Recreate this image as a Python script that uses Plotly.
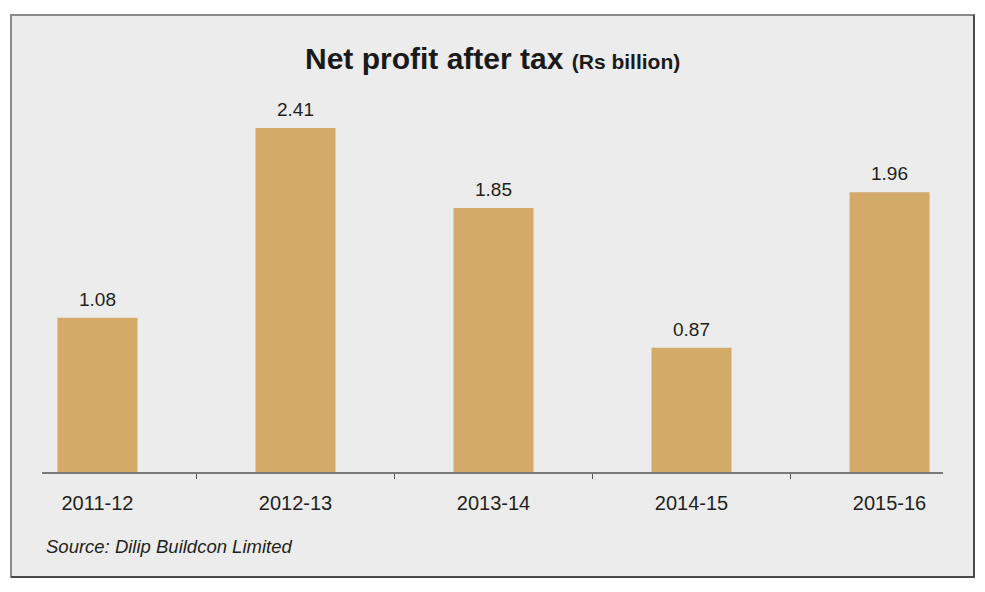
import plotly.graph_objects as go

years = ["2011-12", "2012-13", "2013-14", "2014-15", "2015-16"]
profit = [1.08, 2.41, 1.85, 0.87, 1.96]
labels = ["1.08", "2.41", "1.85", "0.87", "1.96"]

BAR = "#d4aa68"
BG = "#ececec"
FONT = "Liberation Sans, Arial, sans-serif"

fig = go.Figure()
fig.add_trace(go.Bar(
    x=years,
    y=profit,
    width=0.404,
    marker=dict(color=BAR, line=dict(width=0)),
    hoverinfo="skip",
))

# value labels above the bars
for yr, v, lab in zip(years, profit, labels):
    fig.add_annotation(
        x=yr, y=v, text=lab, showarrow=False,
        yanchor="bottom", yshift=6,
        font=dict(family=FONT, size=19, color="#231f20"),
    )

fig.add_annotation(
    xref="paper", yref="paper", x=0.002, y=-0.18,
    xanchor="left", yanchor="middle", showarrow=False,
    text="<i>Source: Dilip Buildcon Limited</i>",
    font=dict(family=FONT, size=18.5, color="#231f20"),
)

# grey panel, light border top/left, darker bottom/right
fig.add_shape(
    type="rect", xref="paper", yref="paper", layer="below",
    x0=-0.0344, x1=1.0344, y0=-0.2549, y1=1.109,
    fillcolor=BG, line=dict(color="#8a8a8a", width=2),
)
fig.add_shape(
    type="path", xref="paper", yref="paper", layer="below",
    path="M -0.0344 -0.2549 L 1.0344 -0.2549 L 1.0344 1.109",
    line=dict(color="#4a4a4a", width=2),
)

fig.update_layout(
    width=985, height=592,
    margin=dict(l=34, r=50, t=52, b=128),
    paper_bgcolor="white",
    plot_bgcolor="rgba(0,0,0,0)",
    showlegend=False,
    title=dict(
        text="<b>Net profit after tax</b> <span style='font-size:21px'><b>(Rs billion)</b></span>",
        x=0.492, xanchor="center", xref="container",
        y=0.914, yanchor="middle",
        font=dict(family=FONT, size=30, color="#1a1a1a"),
    ),
    xaxis=dict(
        type="category",
        range=[-0.28, 4.27],
        tickson="boundaries",
        ticks="outside", ticklen=5, tickwidth=1, tickcolor="#555",
        showline=True, linecolor="#7a7a7a", linewidth=2,
        showgrid=False, zeroline=False,
        tickfont=dict(family=FONT, size=20, color="#231f20"),
        ticklabelstandoff=12,
        fixedrange=True,
    ),
    yaxis=dict(
        range=[0, 2.887],
        visible=False,
        showgrid=False, zeroline=False,
        fixedrange=True,
    ),
)

fig.write_html("out.html")
